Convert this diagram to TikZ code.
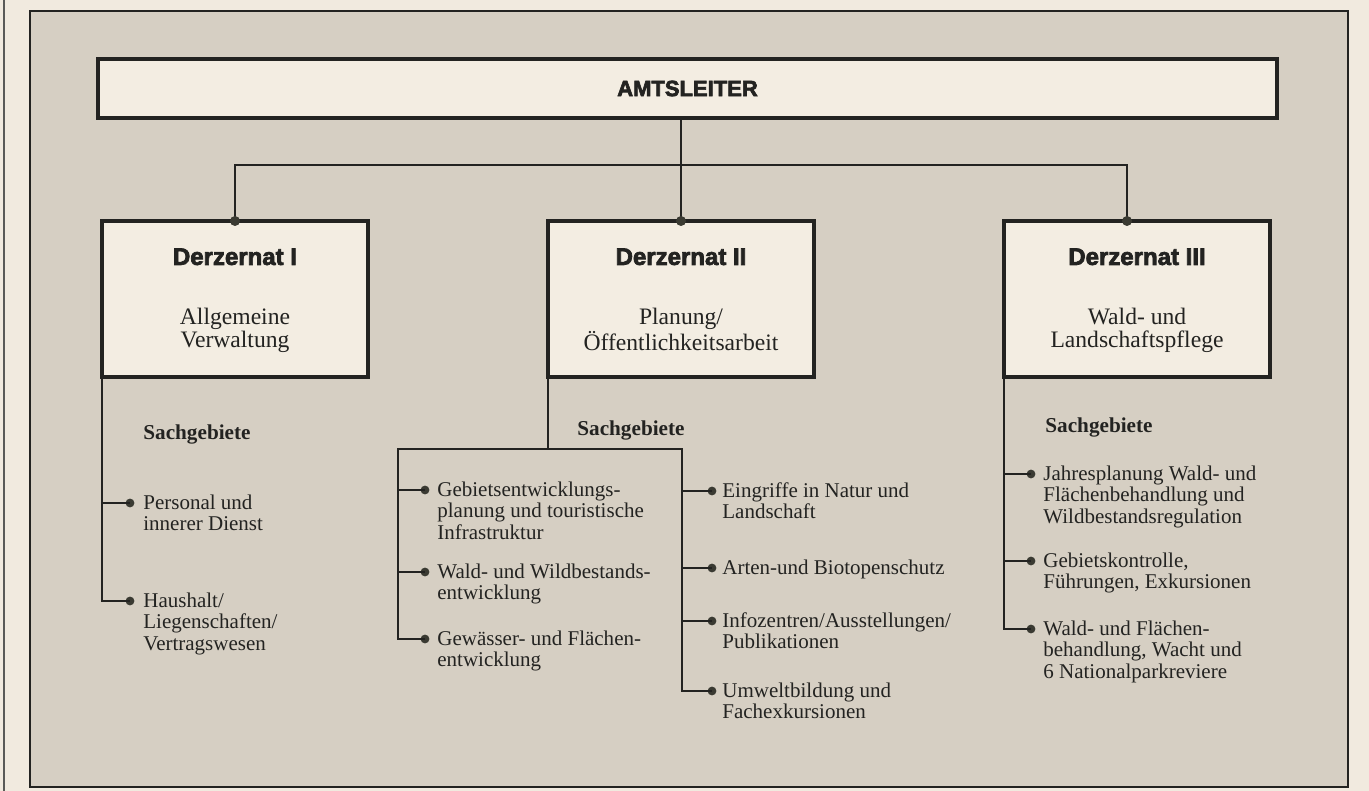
\documentclass[tikz,border=0pt]{standalone}
\usepackage{fontspec}
\setmainfont{Liberation Serif}
\newfontfamily\headfont{Liberation Sans Bold}[FakeBold=3]
\usepackage{tikz}
\usetikzlibrary{positioning}
\usepackage{xcolor}
\definecolor{Paper}{HTML}{F1EADF}
\definecolor{Panel}{HTML}{D6CFC3}
\definecolor{BoxFill}{HTML}{F3EDE2}
\definecolor{Ink}{HTML}{232321}
\definecolor{DotInk}{HTML}{3A3A32}
\newcommand{\itemlines}[1]{\begin{tabular}[t]{@{}l@{}}#1\end{tabular}}
\newcommand{\boxlines}[1]{\begin{tabular}[t]{@{}c@{}}#1\end{tabular}}
\tikzset{%
  org_chief/.style={%
    rectangle,%
    draw=Ink,%
    line width=1.8pt,%
    fill=BoxFill,%
    minimum width=589.5pt,%
    minimum height=29.5pt,%
    inner sep=0pt,%
    outer sep=0pt,%
    text=Ink,%
    font={\headfont\fontsize{11}{13}\selectfont},%
  },
  org_block/.style={%
    rectangle,%
    draw=Ink,%
    line width=1.8pt,%
    fill=BoxFill,%
    minimum width=133pt,%
    minimum height=78pt,%
    inner sep=0pt,%
    outer sep=0pt,%
  },
  org_title/.style={%
    inner sep=0pt,%
    text=Ink,%
    font={\headfont\fontsize{12}{14}\selectfont},%
  },
  org_sub/.style={%
    anchor=base,%
    inner sep=0pt,%
    text=Ink,%
    font={\fontsize{11.8}{11.5}\selectfont},%
  },
  org_head/.style={%
    anchor=base west,%
    inner sep=0pt,%
    text=Ink,%
    font={\bfseries\fontsize{10.6}{11}\selectfont},%
  },
  org_item/.style={%
    anchor=base west,%
    inner sep=0pt,%
    text=Ink,%
    font={\fontsize{10.5}{10.8}\selectfont},%
  },
  org_dot/.style={%
    circle,%
    fill=DotInk,%
    minimum size=4.4pt,%
    inner sep=0pt,%
  },
  org_path/.style={%
    draw=Ink,%
    line width=0.75pt,%
    line join=miter,%
  },
  panel/.style={%
    fill=Panel,%
    draw=Ink,%
    line width=0.6pt,%
  },
  page_rule/.style={%
    draw=Ink!75,%
    line width=0.6pt,%
  },
}
\begin{document}
\begin{tikzpicture}[x=0.5pt, y=0.5pt]

    \useasboundingbox (0,0) rectangle (1369,-791);
    \fill [Paper] (0,0) rectangle (1369,-791);
    \draw [page_rule] (4,0) -- (4,-791);
    \filldraw [panel] (30,-11) rectangle (1348,-787);

    % head and the three departments
    \node [org_chief] (Chief) at (687.5,-88.5) {AMTSLEITER};
    \node [org_block] (Dez1) at (235,-299) {};
    \node [org_block] (Dez2) at (681,-299) {};
    \node [org_block] (Dez3) at (1137,-299) {};

    \node [org_title, below = 13.5pt of Dez1.north] {Derzernat I};
    \node [org_title, below = 13.5pt of Dez2.north] {Derzernat II};
    \node [org_title, below = 13.5pt of Dez3.north] {Derzernat III};

    \node [org_sub] at ([yshift=-51.5pt]Dez1.north) {%
      \boxlines{Allgemeine\\Verwaltung}%
    };
    \node [org_sub] at ([yshift=-51.5pt]Dez2.north) {%
      \boxlines{Planung/\\Öffentlichkeitsarbeit}%
    };
    \node [org_sub] at ([yshift=-51.5pt]Dez3.north) {%
      \boxlines{Wald- und\\Landschaftspflege}%
    };

    \coordinate (bus) at (681,-165);
    \coordinate (Dez3top) at ([xshift=-5pt]Dez3.north);

    \draw [org_path]
      (Chief.south -| Dez2.north)
      --
      (Dez2.north);
    \draw [org_path]
      (Dez1.north)
      --
      (Dez1.north |- bus)
      --
      (Dez3top |- bus)
      --
      (Dez3top);
    \node [org_dot, minimum size=5pt] at (Dez1.north) {};
    \node [org_dot, minimum size=5pt] at (Dez2.north) {};
    \node [org_dot, minimum size=5pt] at (Dez3top) {};

    % Sachgebiete headings
    \node [org_head] (sach1) at (143,-439) {Sachgebiete};
    \node [org_head] (sach2) at (577,-435) {Sachgebiete};
    \node [org_head] (sach3) at (1045,-432) {Sachgebiete};

    % bullets
    \node [org_dot] (p1a) at (130,-503) {};
    \node [org_dot] (p1b) at (130,-601) {};
    \node [org_dot] (p2a) at (425,-490) {};
    \node [org_dot] (p2b) at (425,-572) {};
    \node [org_dot] (p2c) at (425,-639) {};
    \node [org_dot] (p2d) at (712,-491) {};
    \node [org_dot] (p2e) at (712,-568) {};
    \node [org_dot] (p2f) at (712,-621) {};
    \node [org_dot] (p2g) at (712,-691) {};
    \node [org_dot] (p3a) at (1031,-474) {};
    \node [org_dot] (p3b) at (1031,-561) {};
    \node [org_dot] (p3c) at (1031,-629) {};

    % item texts
    \node [org_item] at ([xshift=6.5pt, yshift=-3pt]p1a.center) {%
      \itemlines{Personal und\\innerer Dienst}%
    };
    \node [org_item] at ([xshift=6.5pt, yshift=-3pt]p1b.center) {%
      \itemlines{Haushalt/\\Liegenschaften/\\Vertragswesen}%
    };
    \node [org_item] at ([xshift=6pt, yshift=-3pt]p2a.center) {%
      \itemlines{Gebietsentwicklungs-\\planung und touristische\\Infrastruktur}%
    };
    \node [org_item] at ([xshift=6pt, yshift=-3pt]p2b.center) {%
      \itemlines{Wald- und Wildbestands-\\entwicklung}%
    };
    \node [org_item] at ([xshift=6pt, yshift=-3pt]p2c.center) {%
      \itemlines{Gewässer- und Flächen-\\entwicklung}%
    };
    \node [org_item] at ([xshift=5pt, yshift=-3pt]p2d.center) {%
      \itemlines{Eingriffe in Natur und\\Landschaft}%
    };
    \node [org_item] at ([xshift=5pt, yshift=-3pt]p2e.center) {%
      \itemlines{Arten-und Biotopenschutz}%
    };
    \node [org_item] at ([xshift=5pt, yshift=-3pt]p2f.center) {%
      \itemlines{Infozentren/Ausstellungen/\\Publikationen}%
    };
    \node [org_item] at ([xshift=5pt, yshift=-3pt]p2g.center) {%
      \itemlines{Umweltbildung und\\Fachexkursionen}%
    };
    \node [org_item] at ([xshift=6pt, yshift=-3pt]p3a.center) {%
      \itemlines{Jahresplanung Wald- und\\Flächenbehandlung und\\Wildbestandsregulation}%
    };
    \node [org_item] at ([xshift=6pt, yshift=-3pt]p3b.center) {%
      \itemlines{Gebietskontrolle,\\Führungen, Exkursionen}%
    };
    \node [org_item] at ([xshift=6pt, yshift=-3pt]p3c.center) {%
      \itemlines{Wald- und Flächen-\\behandlung, Wacht und\\6 Nationalparkreviere}%
    };

    % branch lines
    \draw [org_path]
      (Dez1.south west)
      |-
      (p1b.center);
    \draw [org_path] (Dez1.south west |- p1a) -- (p1a.center);

    \coordinate (fork2L) at (398,-449);
    \coordinate (fork2R) at (682,-449);
    \draw [org_path]
      (Dez2.south west)
      --
      (Dez2.south west |- fork2L);
    \draw [org_path]
      (p2c.center)
      -|
      (fork2L)
      --
      (fork2R)
      |-
      (p2g.center);
    \draw [org_path] (fork2L |- p2a) -- (p2a.center);
    \draw [org_path] (fork2L |- p2b) -- (p2b.center);
    \draw [org_path] (fork2R |- p2d) -- (p2d.center);
    \draw [org_path] (fork2R |- p2e) -- (p2e.center);
    \draw [org_path] (fork2R |- p2f) -- (p2f.center);

    \draw [org_path]
      (Dez3.south west)
      |-
      (p3c.center);
    \draw [org_path] (Dez3.south west |- p3a) -- (p3a.center);
    \draw [org_path] (Dez3.south west |- p3b) -- (p3b.center);

  \end{tikzpicture}
\end{document}
